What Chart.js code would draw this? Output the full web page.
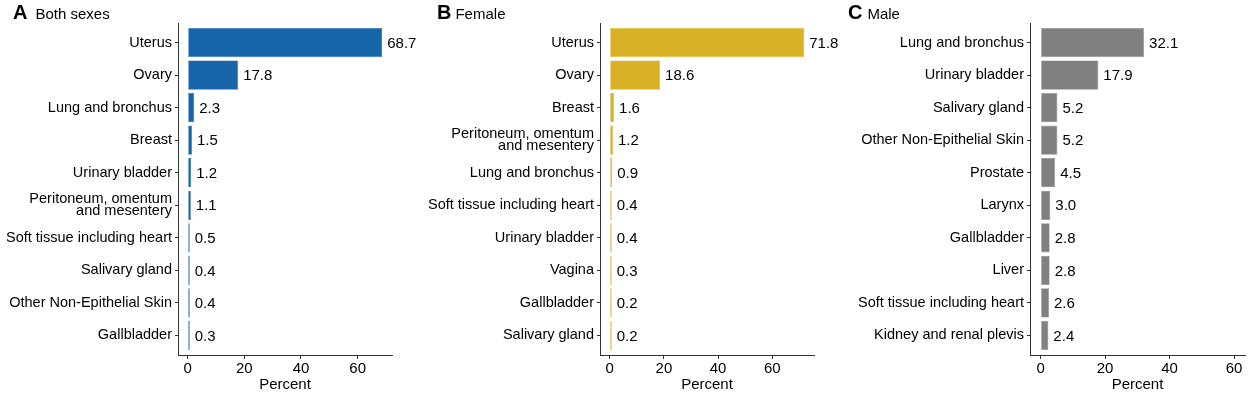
<!DOCTYPE html>
<html>
<head>
<meta charset="utf-8">
<script src="https://cdn.jsdelivr.net/npm/chart.js@4.4.1/dist/chart.umd.min.js"></script>
<style>
  body { margin: 0; background: #fff; width: 1248px; height: 395px; overflow: hidden; font-family: "Liberation Sans", Arial, sans-serif; }
  .panel { position: absolute; top: 0; height: 395px; }
  .tag { position: absolute; top: 1px; font-size: 15px; color: #000; white-space: nowrap; }
  .tag b { font-size: 20px; font-weight: bold; margin-right: 4px; }
</style>
</head>
<body>
<div class="panel" style="left:0;width:440px"><canvas id="chartA"></canvas></div>
<div class="panel" style="left:420px;width:440px"><canvas id="chartB"></canvas></div>
<div class="panel" style="left:830px;width:418px"><canvas id="chartC"></canvas></div>
<div class="tag" style="left:13px"><b style="margin-right:8px">A</b>Both sexes</div>
<div class="tag" style="left:437px"><b>B</b>Female</div>
<div class="tag" style="left:848px"><b style="margin-right:5px">C</b>Male</div>
<script>
// category labels (top to bottom) and percentages
const bothLabels = ['Uterus', 'Ovary', 'Lung and bronchus', 'Breast', 'Urinary bladder',
    ['Peritoneum, omentum', 'and mesentery'], 'Soft tissue including heart', 'Salivary gland',
    'Other Non-Epithelial Skin', 'Gallbladder'];
const bothValues = [68.7, 17.8, 2.3, 1.5, 1.2, 1.1, 0.5, 0.4, 0.4, 0.3];

const femaleLabels = ['Uterus', 'Ovary', 'Breast', ['Peritoneum, omentum', 'and mesentery'],
    'Lung and bronchus', 'Soft tissue including heart', 'Urinary bladder', 'Vagina',
    'Gallbladder', 'Salivary gland'];
const femaleValues = [71.8, 18.6, 1.6, 1.2, 0.9, 0.4, 0.4, 0.3, 0.2, 0.2];

const maleLabels = ['Lung and bronchus', 'Urinary bladder', 'Salivary gland',
    'Other Non-Epithelial Skin', 'Prostate', 'Larynx', 'Gallbladder', 'Liver',
    'Soft tissue including heart', 'Kidney and renal plevis'];
const maleValues = [32.1, 17.9, 5.2, 5.2, 4.5, 3.0, 2.8, 2.8, 2.6, 2.4];

const xTicks = [0, 20, 40, 60];

const FONT = '"Liberation Sans", Arial, sans-serif';
Chart.defaults.font.family = FONT;
Chart.defaults.color = '#000';

// value text just right of each bar
const valueLabels = {
    id: 'valueLabels',
    afterDatasetsDraw(chart) {
        const ctx = chart.ctx;
        const meta = chart.getDatasetMeta(0);
        const data = chart.data.datasets[0].data;
        ctx.save();
        ctx.font = '15px ' + FONT;
        ctx.fillStyle = '#000';
        ctx.textAlign = 'left';
        ctx.textBaseline = 'middle';
        meta.data.forEach((bar, i) => {
            ctx.fillText(data[i].x.toFixed(1), bar.x + 5, bar.y + 1);
        });
        ctx.restore();
    }
};

function makePanel(id, labels, values, color, edge, yWidth, padRight, xMin, xMax) {
    const ctx = document.getElementById(id).getContext('2d');
    // index axis kept linear so the ggplot-like 0.6 band expansion can be reproduced
    const points = values.map((v, i) => ({ x: v, y: i }));
    new Chart(ctx, {
        type: 'bar',
        data: {
            datasets: [{
                data: points,
                backgroundColor: color,
                borderColor: edge,
                borderWidth: 0.6,
                borderSkipped: false,
                minBarLength: 2,
                barPercentage: 0.9,
                categoryPercentage: 1.0
            }]
        },
        options: {
            indexAxis: 'y',
            responsive: true,
            maintainAspectRatio: false,
            animation: false,
            layout: { padding: { top: 23, right: padRight, bottom: 1, left: 0 } },
            plugins: { legend: { display: false }, tooltip: { enabled: false } },
            scales: {
                x: {
                    type: 'linear',
                    min: xMin,
                    max: xMax,
                    afterBuildTicks: (scale) => { scale.ticks = xTicks.map(v => ({ value: v })); },
                    grid: { drawOnChartArea: false, drawTicks: true, tickLength: 4, color: '#333' },
                    border: { display: true, color: '#333', width: 1 },
                    ticks: { font: { size: 15 }, color: '#000', padding: 1, maxRotation: 0 },
                    title: { display: true, text: 'Percent', font: { size: 15 }, color: '#000', padding: { top: -3, bottom: 0 } }
                },
                y: {
                    type: 'linear',
                    reverse: true,
                    offset: false,
                    min: -0.6,
                    max: labels.length - 0.4,
                    afterBuildTicks: (scale) => { scale.ticks = labels.map((_, i) => ({ value: i })); },
                    afterFit: (scale) => { scale.width = yWidth; },
                    grid: { drawOnChartArea: false, drawTicks: true, tickLength: 3, color: '#333', offset: false },
                    border: { display: true, color: '#333', width: 1 },
                    ticks: {
                        font: { size: 14.5, lineHeight: 0.82 }, color: '#000', padding: 3, autoSkip: false,
                        callback: (v) => labels[v]
                    }
                }
            }
        },
        plugins: [valueLabels]
    });
}

makePanel('chartA', bothLabels, bothValues, '#1565a8', '#1f6db0', 178, 48, -3.435, 72.135);
makePanel('chartB', femaleLabels, femaleValues, '#d9b125', '#dbb42f', 180, 46, -3.59, 75.39);
makePanel('chartC', maleLabels, maleValues, '#808080', '#909090', 200, 3, -3.3, 63.4);
</script>
</body>
</html>
